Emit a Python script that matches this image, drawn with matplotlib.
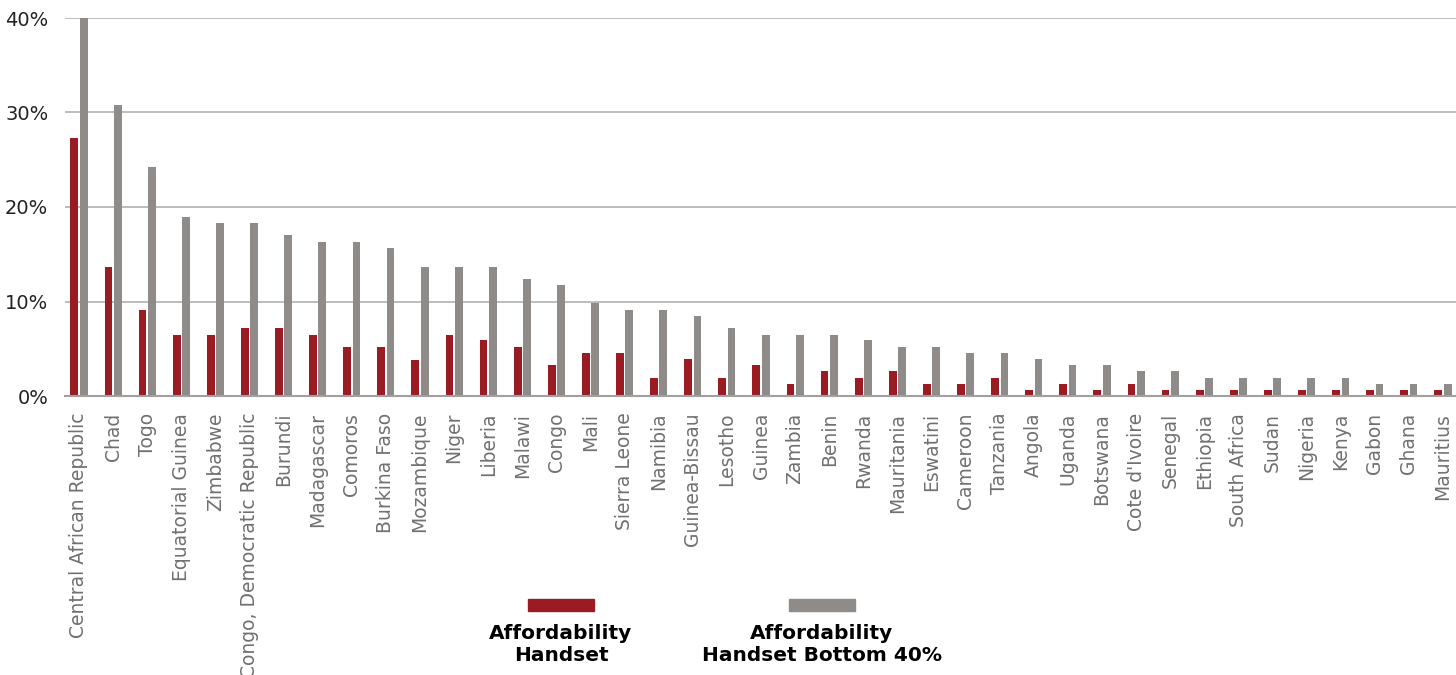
import numpy as np
import matplotlib
matplotlib.use("Agg")
import matplotlib.pyplot as plt
from matplotlib.patches import Rectangle

countries = [
    "Central African Republic", "Chad", "Togo", "Equatorial Guinea", "Zimbabwe",
    "Congo, Democratic Republic", "Burundi", "Madagascar", "Comoros", "Burkina Faso",
    "Mozambique", "Niger", "Liberia", "Malawi", "Congo", "Mali", "Sierra Leone",
    "Namibia", "Guinea-Bissau", "Lesotho", "Guinea", "Zambia", "Benin", "Rwanda",
    "Mauritania", "Eswatini", "Cameroon", "Tanzania", "Angola", "Uganda", "Botswana",
    "Cote d'Ivoire", "Senegal", "Ethiopia", "South Africa", "Sudan", "Nigeria",
    "Kenya", "Gabon", "Ghana", "Mauritius",
]
# handset cost as share of monthly income (%)
handset = [
    27.3, 13.7, 9.1, 6.5, 6.5, 7.2, 7.2, 6.5, 5.2, 5.2,
    3.8, 6.5, 5.9, 5.2, 3.3, 4.55, 4.55, 1.95, 3.9, 1.95,
    3.3, 1.3, 2.6, 1.95, 2.6, 1.3, 1.3, 1.95, 0.65, 1.3,
    0.65, 1.3, 0.65, 0.65, 0.65, 0.65, 0.65, 0.65, 0.65, 0.65, 0.65,
]
handset_bottom40 = [
    40.0, 30.8, 24.2, 18.9, 18.3, 18.3, 17.0, 16.3, 16.3, 15.7,
    13.7, 13.7, 13.7, 12.4, 11.7, 9.8, 9.15, 9.15, 8.5, 7.15,
    6.5, 6.5, 6.5, 5.9, 5.2, 5.2, 4.55, 4.55, 3.9, 3.25,
    3.25, 2.6, 2.6, 1.95, 1.95, 1.95, 1.95, 1.95, 1.3, 1.3, 1.3,
]
yticks = [0, 10, 20, 30, 40]

RED = "#9b1b22"
GRAY = "#8f8b88"

fig = plt.figure(figsize=(14.56, 6.75), dpi=100)
ax = fig.add_axes([65 / 1456, 1 - 396 / 675, 1 - 65 / 1456, 378 / 675])

x = np.arange(len(countries))
ax.bar(x - 0.137, handset, width=0.228, color=RED, linewidth=0, zorder=3)
ax.bar(x + 0.137, handset_bottom40, width=0.228, color=GRAY, linewidth=0, zorder=3)

ax.set_xlim(-0.41, len(countries) - 1 + 0.38)
ax.set_ylim(0, 40)
ax.set_yticks(yticks)
ax.set_yticklabels([f"{v}%" for v in yticks], fontsize=14, color="#222222")
ax.yaxis.grid(True, color="#b0b0b0", linewidth=1.2, zorder=0)
ax.set_axisbelow(True)

ax.set_xticks(x)
ax.set_xticklabels(countries, rotation=90, fontsize=13.5, color="#707070", va="top")
ax.tick_params(axis="both", length=0)
ax.tick_params(axis="y", pad=12)
ax.tick_params(axis="x", pad=12)

for s in ["top", "right", "left"]:
    ax.spines[s].set_visible(False)
ax.spines["bottom"].set_color("#a0a0a0")
ax.spines["bottom"].set_linewidth(1.5)
ax.spines["bottom"].set_zorder(4)

# legend drawn by hand under the axis
for (x0, color, label) in [(528, RED, "Affordability\nHandset"),
                            (789, GRAY, "Affordability\nHandset Bottom 40%")]:
    fig.patches.append(Rectangle((x0 / 1456, 1 - 611 / 675), 66 / 1456, 12 / 675,
                                 transform=fig.transFigure, color=color))
    fig.text((x0 + 33) / 1456, 1 - 624 / 675, label, ha="center", va="top",
             fontsize=14.5, fontweight="bold", color="black", linespacing=1.2)

fig.savefig("out.png", dpi=100)
